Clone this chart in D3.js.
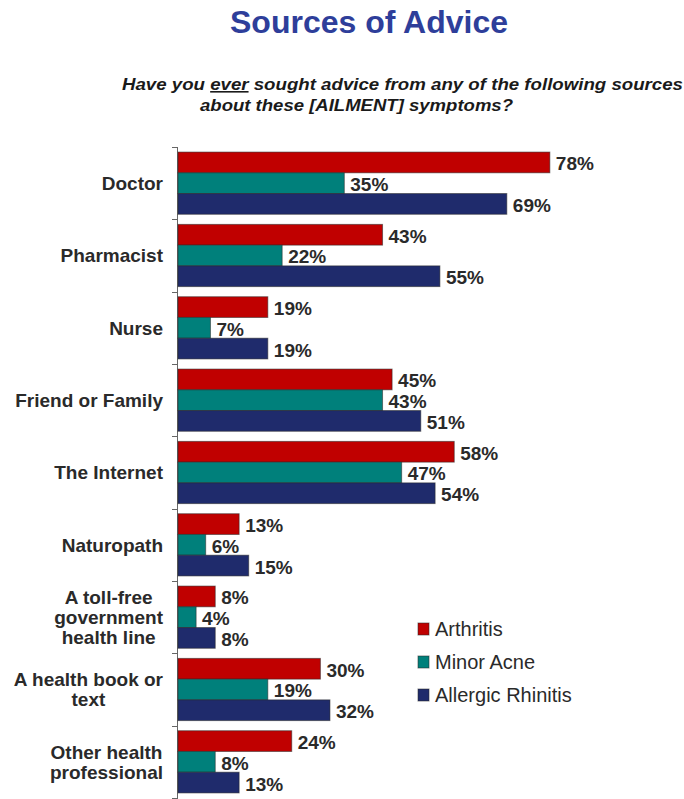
<!DOCTYPE html>
<html>
<head>
<meta charset="utf-8">
<script src="https://cdn.jsdelivr.net/npm/d3@7"></script>
<style>
  html, body { margin: 0; padding: 0; background: #fff; }
  svg { display: block; font-family: "Liberation Sans", Arial, sans-serif; }
</style>
</head>
<body>
<svg id="chart" width="684" height="799"></svg>
<script>
// Survey sources, one row of bars per source
const categories = [
  ["Doctor"],
  ["Pharmacist"],
  ["Nurse"],
  ["Friend or Family"],
  ["The Internet"],
  ["Naturopath"],
  ["A toll-free", "government", "health line"],
  ["A health book or", "text"],
  ["Other health", "professional"]
];
const seriesNames = ["Arthritis", "Minor Acne", "Allergic Rhinitis"];
const arthritis = [78, 43, 19, 45, 58, 13, 8, 30, 24];
const minorAcne = [35, 22, 7, 43, 47, 6, 4, 19, 8];
const allergicRhinitis = [69, 55, 19, 51, 54, 15, 8, 32, 13];
const seriesValues = [arthritis, minorAcne, allergicRhinitis];
const colors = ["#C00000", "#00807B", "#1F2B6C"];

const svg = d3.select("#chart");

// Title and question
svg.append("text")
  .attr("x", 369).attr("y", 33)
  .attr("text-anchor", "middle")
  .attr("font-size", 32).attr("font-weight", "bold")
  .attr("fill", "#2E3E9A")
  .text("Sources of Advice");

const q1 = svg.append("text")
  .attr("x", 122).attr("y", 90)
  .attr("font-size", 16).attr("font-weight", "bold").attr("font-style", "italic")
  .attr("fill", "#1a1a1a")
  .attr("textLength", 561).attr("lengthAdjust", "spacingAndGlyphs");
q1.append("tspan").text("Have you ");
q1.append("tspan").attr("text-decoration", "underline").text("ever");
q1.append("tspan").text(" sought advice from any of the following sources");

svg.append("text")
  .attr("x", 200).attr("y", 111)
  .attr("font-size", 16).attr("font-weight", "bold").attr("font-style", "italic")
  .attr("fill", "#1a1a1a")
  .attr("textLength", 313).attr("lengthAdjust", "spacingAndGlyphs")
  .text("about these [AILMENT] symptoms?");

// Scales
const x0 = 177;
const x = d3.scaleLinear().domain([0, 100]).range([x0, x0 + 478]);
const y = d3.scaleBand()
  .domain(d3.range(categories.length))
  .range([147, 798])
  .paddingInner(0.14).paddingOuter(0.07);
const ySub = d3.scaleBand()
  .domain(d3.range(seriesNames.length))
  .range([0, y.bandwidth()]);

// Category axis: vertical line with ticks between groups
const step = y.step();
const axis = svg.append("g").attr("stroke", "#666").attr("stroke-width", 1);
axis.append("line")
  .attr("x1", x0 + 0.5).attr("x2", x0 + 0.5)
  .attr("y1", 147).attr("y2", 799);
axis.selectAll("line.tick")
  .data(d3.range(categories.length + 1))
  .join("line").attr("class", "tick")
  .attr("x1", x0 - 5).attr("x2", x0 + 0.5)
  .attr("y1", i => Math.round(147 + i * step) + 0.5)
  .attr("y2", i => Math.round(147 + i * step) + 0.5);

// Bars
const groups = svg.append("g").selectAll("g")
  .data(categories)
  .join("g")
  .attr("transform", (d, i) => `translate(0,${y(i)})`);

groups.each(function(cat, ci) {
  const g = d3.select(this);
  seriesValues.forEach((vals, si) => {
    const v = vals[ci];
    g.append("rect")
      .attr("x", x(0) + 1)
      .attr("y", ySub(si))
      .attr("width", x(v) - x(0) - 1)
      .attr("height", ySub.bandwidth())
      .attr("fill", colors[si])
      .attr("stroke", "rgba(40,40,40,0.55)")
      .attr("stroke-width", 1);
    g.append("text")
      .attr("x", x(v) + 6)
      .attr("y", ySub(si) + ySub.bandwidth() / 2)
      .attr("dy", "0.42em")
      .attr("font-size", 19).attr("font-weight", "bold")
      .attr("fill", "#2a2a2a")
      .text(v + "%");
  });

  // Category label, lines centred within a right-aligned block
  const label = g.append("text")
    .attr("font-size", 19).attr("font-weight", "bold")
    .attr("fill", "#2a2a2a")
    .attr("text-anchor", "middle");
  const lh = 20;
  const top = y.bandwidth() / 2 - (cat.length - 1) * lh / 2;
  const spans = cat.map((line, li) => label.append("tspan")
    .attr("y", top + li * lh).attr("dy", "0.36em").text(line));
  const widths = spans.map(s => s.node().getComputedTextLength());
  const maxW = d3.max(widths);
  spans.forEach(s => s.attr("x", 163 - maxW / 2));
});

// Legend
const legend = svg.append("g").attr("transform", "translate(418,623)");
seriesNames.forEach((name, i) => {
  const row = legend.append("g").attr("transform", `translate(0,${i * 33})`);
  row.append("rect")
    .attr("width", 11).attr("height", 12)
    .attr("fill", colors[i])
    .attr("stroke", "rgba(40,40,40,0.55)");
  row.append("text")
    .attr("x", 17).attr("y", 6).attr("dy", "0.36em")
    .attr("font-size", 20).attr("fill", "#2a2a2a")
    .text(name);
});
</script>
</body>
</html>
